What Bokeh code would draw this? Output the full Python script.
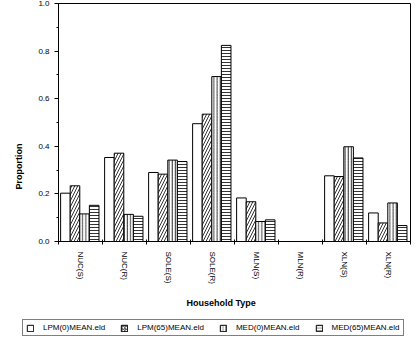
import numpy as np
from bokeh.plotting import figure
from bokeh.models import (ColumnDataSource, Range1d, FixedTicker, Legend, LegendItem, Title)
from bokeh.transform import dodge
from bokeh.embed import file_html
from bokeh.resources import INLINE

categories = ["NUC(S)", "NUC(R)", "SOLE(S)", "SOLE(R)", "MLN(S)", "MLN(R)", "XLN(S)", "XLN(R)"]
series_names = ["LPM(0)MEAN.eld", "LPM(65)MEAN.eld", "MED(0)MEAN.eld", "MED(65)MEAN.eld"]
lpm0 = [0.203, 0.353, 0.290, 0.495, 0.183, np.nan, 0.276, 0.120]
lpm65 = [0.234, 0.371, 0.283, 0.535, 0.167, np.nan, 0.273, 0.078]
med0 = [0.116, 0.114, 0.342, 0.693, 0.084, np.nan, 0.398, 0.162]
med65 = [0.152, 0.106, 0.336, 0.824, 0.091, np.nan, 0.351, 0.067]
y_ticks = [0.0, 0.2, 0.4, 0.6, 0.8, 1.0]

FONT = "Liberation Sans"

xc = [i + 0.5 for i in range(len(categories))]
src = ColumnDataSource(dict(x=xc, lpm0=np.array(lpm0), lpm65=np.array(lpm65),
                            med0=np.array(med0), med65=np.array(med65)))

p = figure(width=416, height=316, output_backend="svg", toolbar_location=None,
           x_range=Range1d(0, len(categories)), y_range=Range1d(0, 1.0),
           min_border_left=52, min_border_right=6, min_border_top=3, min_border_bottom=74)
p.xgrid.visible = False
p.ygrid.visible = False
p.outline_line_color = "black"
p.outline_line_width = 1

w = 0.218
offsets = [-0.343, -0.125, 0.093, 0.311]
cols = ["lpm0", "lpm65", "med0", "med65"]
hatches = [" ", "right_diagonal_line", "vertical_line", "horizontal_line"]
scales = [6, 6, 3.2, 3]
style = dict(fill_color="white", line_color="black", line_width=1,
             hatch_color="black", hatch_weight=0.8)
for col, off, hp, hs in zip(cols, offsets, hatches, scales):
    p.vbar(x=dodge("x", off, range=p.x_range), top=col, bottom=0, width=w, source=src,
           hatch_pattern=hp, hatch_scale=hs, **style)

xa = p.xaxis[0]
xa.ticker = FixedTicker(ticks=xc, minor_ticks=list(range(len(categories) + 1)))
xa.major_label_overrides = {c: lab for c, lab in zip(xc, categories)}
xa.major_tick_line_color = None
xa.minor_tick_line_color = "black"
xa.minor_tick_out = 3
xa.minor_tick_in = 2
xa.major_label_orientation = "vertical"
xa.major_label_standoff = 4
xa.major_label_text_font = FONT
xa.major_label_text_font_size = "8px"
xa.major_label_text_color = "black"
xa.axis_line_color = "black"

ya = p.yaxis[0]
ya.ticker = FixedTicker(ticks=y_ticks, minor_ticks=[0.1, 0.3, 0.5, 0.7, 0.9])
ya.major_label_overrides = {t: f"{t:.1f}" for t in y_ticks}
ya.major_tick_out = 4
ya.major_tick_in = 0
ya.minor_tick_out = 2
ya.minor_tick_in = 0
ya.major_label_standoff = 5
ya.major_label_text_font = FONT
ya.major_label_text_font_size = "8px"
ya.major_label_text_color = "black"
ya.axis_line_color = "black"

ytitle = Title(text="Proportion", align="left", offset=52, text_font=FONT,
               text_font_size="9px", text_font_style="bold", text_color="black", standoff=23)
p.add_layout(ytitle, "left")

xtitle = Title(text="Household Type", align="left", offset=128, text_font=FONT,
               text_font_size="9px", text_font_style="bold", text_color="black", standoff=18)
p.add_layout(xtitle, "below")

# legend strip below the chart (its bars lie outside its view; only the legend shows)
p2 = figure(width=416, height=26, output_backend="svg", toolbar_location=None,
            x_range=Range1d(0, len(categories)), y_range=Range1d(2, 3),
            x_axis_location=None, y_axis_location=None,
            min_border_left=0, min_border_right=0, min_border_top=0, min_border_bottom=0)
p2.xgrid.visible = False
p2.ygrid.visible = False
p2.outline_line_color = None
items = []
for name, col, hp, hs in zip(series_names, cols, hatches, [6, 3, 2.2, 2.2]):
    r2 = p2.vbar(x="x", top=col, bottom=0, width=w, source=src,
                 hatch_pattern=hp, hatch_scale=hs, **style)
    items.append(LegendItem(label=name, renderers=[r2], index=0))

legend = Legend(items=items, orientation="horizontal", location=(22, 6),
                border_line_color="black", border_line_width=1,
                label_text_font=FONT, label_text_font_size="8px", label_text_color="black",
                glyph_width=8, glyph_height=8, label_standoff=9, spacing=15,
                padding=3, margin=0, label_height=8)
p2.add_layout(legend, "center")

open("out.html", "w").write(file_html([p, p2], INLINE))
